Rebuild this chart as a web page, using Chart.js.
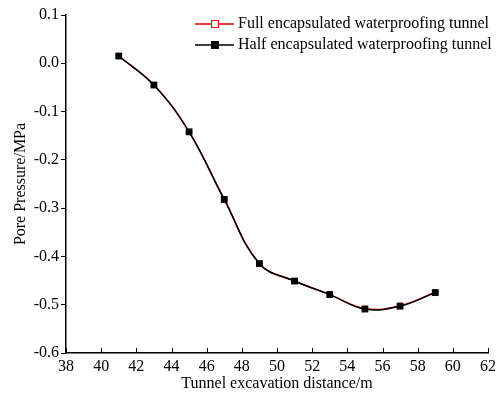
<!DOCTYPE html>
<html>
<head>
<meta charset="utf-8">
<script src="https://cdn.jsdelivr.net/npm/chart.js@4.4.1/dist/chart.umd.min.js"></script>
<style>
  html, body { margin: 0; padding: 0; background: #fff; }
  #wrap { width: 502px; height: 399px; position: relative; }
</style>
</head>
<body>
<div id="wrap"><canvas id="chart"></canvas></div>
<script>
const distances = [41, 43, 45, 47, 49, 51, 53, 55, 57, 59];
const fullTunnel = [0.015, -0.045, -0.142, -0.282, -0.415, -0.451, -0.479, -0.508, -0.502, -0.474];
const halfTunnel = [0.015, -0.045, -0.142, -0.282, -0.415, -0.451, -0.479, -0.509, -0.503, -0.475];
const seriesNames = ["Full encapsulated waterproofing tunnel", "Half encapsulated waterproofing tunnel"];
const xTicks = [38, 40, 42, 44, 46, 48, 50, 52, 54, 56, 58, 60, 62];
const yTicks = [0.1, 0.0, -0.1, -0.2, -0.3, -0.4, -0.5, -0.6];

const FONT = "'Liberation Serif', 'Times New Roman', serif";
const toPoints = (ys) => distances.map((x, i) => ({ x, y: ys[i] }));

// inward ticks on the x axis + hand-drawn legend with line and marker
const extras = {
  id: "extras",
  afterDraw(chart) {
    const ctx = chart.ctx;
    const x = chart.scales.x;
    const area = chart.chartArea;
    ctx.save();
    ctx.strokeStyle = "#000";
    ctx.lineWidth = 1;
    xTicks.forEach((v) => {
      const px = Math.round(x.getPixelForValue(v)) + 0.5;
      ctx.beginPath();
      ctx.moveTo(px, area.bottom);
      ctx.lineTo(px, area.bottom - 5);
      ctx.stroke();
    });

    const items = [
      { color: "#e00000", fill: "#fff" },
      { color: "#000", fill: "#000" }
    ];
    ctx.font = "16px " + FONT;
    ctx.textBaseline = "middle";
    items.forEach((it, i) => {
      const y = 24 + i * 21;
      ctx.strokeStyle = it.color;
      ctx.lineWidth = 1.5;
      ctx.beginPath();
      ctx.moveTo(195, y);
      ctx.lineTo(234, y);
      ctx.stroke();
      ctx.fillStyle = it.fill;
      ctx.fillRect(211, y - 4, 8, 8);
      ctx.lineWidth = 1;
      ctx.strokeRect(211.5, y - 3.5, 7, 7);
      ctx.fillStyle = "#000";
      ctx.fillText(seriesNames[i], 238, y);
    });
    ctx.restore();
  }
};

new Chart(document.getElementById("chart"), {
  type: "line",
  data: {
    datasets: [
      {
        label: seriesNames[0],
        data: toPoints(fullTunnel),
        order: 2,
        borderColor: "#e00000",
        backgroundColor: "#fff",
        borderWidth: 1.5,
        pointStyle: "rect",
        pointRadius: 3.5,
        pointBorderWidth: 1,
        pointBorderColor: "#e00000",
        tension: 0.4
      },
      {
        label: seriesNames[1],
        data: toPoints(halfTunnel),
        order: 1,
        borderColor: "#000",
        backgroundColor: "#000",
        borderWidth: 1.5,
        pointStyle: "rect",
        pointRadius: 4.8,
        pointBorderWidth: 0,
        tension: 0.4
      }
    ]
  },
  options: {
    responsive: true,
    maintainAspectRatio: false,
    animation: false,
    layout: { padding: { top: 15, right: 14, left: 0, bottom: 0 } },
    plugins: {
      legend: { display: false },
      tooltip: { enabled: false }
    },
    scales: {
      x: {
        type: "linear",
        min: 38,
        max: 62,
        afterBuildTicks: (s) => { s.ticks = xTicks.map((v) => ({ value: v })); },
        afterFit: (s) => { s.height = 46; },
        grid: { display: false, drawTicks: false },
        border: { display: true, color: "#000", width: 1.5 },
        ticks: { color: "#000", font: { family: FONT, size: 16 }, padding: 4, maxRotation: 0 },
        title: {
          display: true,
          text: "Tunnel excavation distance/m",
          color: "#000",
          font: { family: FONT, size: 16 },
          padding: { top: 0, bottom: 6 }
        }
      },
      y: {
        type: "linear",
        min: -0.6,
        max: 0.1,
        afterBuildTicks: (s) => { s.ticks = yTicks.map((v) => ({ value: v })); },
        afterFit: (s) => { s.width = 66; },
        grid: { drawOnChartArea: false, drawTicks: true, tickLength: 5, color: "#000" },
        border: { display: true, color: "#000", width: 1.5 },
        ticks: {
          color: "#000",
          font: { family: FONT, size: 16 },
          padding: 2,
          callback: (v) => Number(v).toFixed(1)
        },
        title: {
          display: true,
          text: "Pore Pressure/MPa",
          color: "#000",
          font: { family: FONT, size: 16 },
          padding: { top: 11, bottom: 0 }
        }
      }
    }
  },
  plugins: [extras]
});
</script>
</body>
</html>
